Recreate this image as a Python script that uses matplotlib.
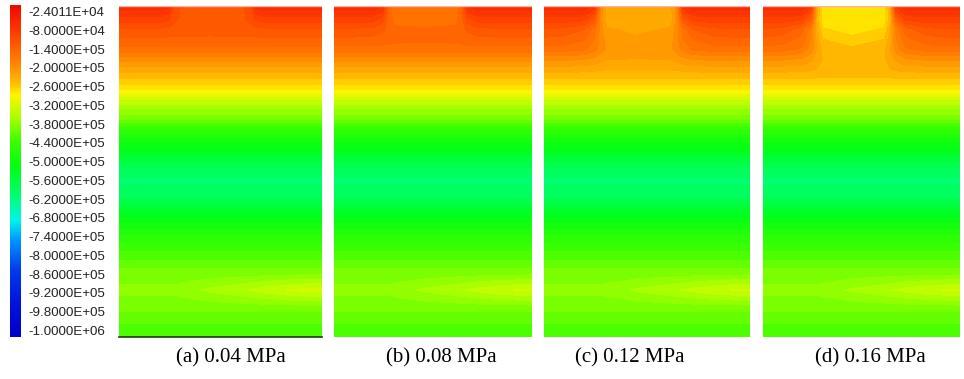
import numpy as np
import matplotlib
matplotlib.use("Agg")
import matplotlib.pyplot as plt
from matplotlib.colors import LinearSegmentedColormap, Normalize

# legend values (Pa) and their labels
cb_values = [-24011, -80000, -140000, -200000, -260000, -320000, -380000, -440000,
             -500000, -560000, -620000, -680000, -740000, -800000, -860000, -920000,
             -980000, -1000000]
cb_labels = ["-2.4011E+04", "-8.0000E+04", "-1.4000E+05", "-2.0000E+05", "-2.6000E+05",
             "-3.2000E+05", "-3.8000E+05", "-4.4000E+05", "-5.0000E+05", "-5.6000E+05",
             "-6.2000E+05", "-6.8000E+05", "-7.4000E+05", "-8.0000E+05", "-8.6000E+05",
             "-9.2000E+05", "-9.8000E+05", "-1.0000E+06"]

titles = ["(a) 0.04 MPa", "(b) 0.08 MPa", "(c) 0.12 MPa", "(d) 0.16 MPa"]

# depth below top of model (0 = surface, 1 = bottom) and the far-field pressure profile
depth = [0.0, 0.042, 0.073, 0.103, 0.133, 0.163, 0.193, 0.224, 0.254, 0.284, 0.314,
         0.344, 0.375, 0.435, 0.48, 0.526, 0.571, 0.616, 0.662, 0.707, 0.752, 0.798,
         0.858, 0.918, 0.979, 1.0]
base_profile = [-5.1e4, -8.7e4, -1.16e5, -1.35e5, -1.54e5, -1.93e5, -2.22e5, -2.5e5,
                -2.79e5, -3.27e5, -3.66e5, -3.94e5, -4.52e5, -5.19e5, -5.75e5, -6.0e5,
                -5.9e5, -5.4e5, -4.9e5, -4.52e5, -4.23e5, -3.94e5, -3.74e5, -3.94e5,
                -4.23e5, -4.3e5]

# lateral positions (fraction of width)
x_nodes = [0.0, 0.10, 0.20, 0.25, 0.28, 0.31, 0.45, 0.61, 0.64, 0.67, 0.72, 0.82, 0.92, 1.0]
# how the load effect spreads sideways, one row per depth row 0..7
load_shape = [
    [0, 0, 0, 0.1, 0.8, 1, 1, 1, 0.8, 0.1, 0, 0, 0, 0],
    [0, 0, 0.03, 0.25, 0.78, 1, 1, 1, 0.78, 0.25, 0.03, 0, 0, 0],
    [0, 0.03, 0.15, 0.4, 0.72, 0.92, 1, 0.92, 0.72, 0.4, 0.15, 0.03, 0, 0],
    [0, 0.03, 0.15, 0.4, 0.72, 0.92, 1, 0.92, 0.72, 0.4, 0.15, 0.03, 0, 0],
    [0, 0.03, 0.15, 0.4, 0.72, 0.92, 1, 0.92, 0.72, 0.4, 0.15, 0.03, 0, 0],
    [0, 0.03, 0.15, 0.4, 0.72, 0.92, 1, 0.92, 0.72, 0.4, 0.15, 0.03, 0, 0],
    [0, 0.03, 0.15, 0.4, 0.72, 0.92, 1, 0.92, 0.72, 0.4, 0.15, 0.03, 0, 0],
    [0, 0.03, 0.15, 0.4, 0.72, 0.92, 1, 0.92, 0.72, 0.4, 0.15, 0.03, 0, 0],
]
ridge_shape = [0, 0, 0, 0, 0, 0.05, 0.3, 0.5, 0.55, 0.6, 0.7, 0.85, 0.95, 1.0]

# extra pressure under the loaded zone, first 8 depth rows
offset_a = [-6.5e4, -3.0e4, -8e3, 0, 0, 0, 0, 0]
offset_b = [-1.1e5, -6.5e4, -3e4, -1e4, 0, 0, 0, 0]
offset_c = [-1.7e5, -1.35e5, -1.02e5, -7.5e4, -5e4, -2.2e4, -8e3, 0]
offset_d = [-2.25e5, -1.9e5, -1.55e5, -1.2e5, -8.8e4, -4.3e4, -1.3e4, 0]
offsets = [offset_a, offset_b, offset_c, offset_d]
ridge_amp = [5.5e4, 5e4, 5e4, 5e4]

# colour map, t = 0 at top of bar (red) to 1 at bottom (blue)
cmap = LinearSegmentedColormap.from_list("fluent", [
    (0.00, (240/255, 10/255, 0)),
    (0.08, (1, 60/255, 0)),
    (0.17, (1, 130/255, 0)),
    (0.23, (1, 185/255, 0)),
    (0.27, (1, 245/255, 0)),
    (0.33, (180/255, 1, 0)),
    (0.41, (60/255, 1, 0)),
    (0.49, (0, 1, 20/255)),
    (0.58, (0, 1, 120/255)),
    (0.65, (0, 245/255, 235/255)),
    (0.71, (0, 150/255, 1)),
    (0.80, (0, 60/255, 235/255)),
    (0.90, (0, 20/255, 220/255)),
    (1.00, (0, 0, 200/255)),
])
tick_t = np.linspace(0.02, 0.98, len(cb_values))


def to_t(v):
    return np.interp(-np.asarray(v), -np.array(cb_values), tick_t)


W, H = 964, 379
fig = plt.figure(figsize=(W / 100, H / 100), dpi=100)


def px_axes(x0, y0, x1, y1):
    return fig.add_axes([x0 / W, 1 - y1 / H, (x1 - x0) / W, (y1 - y0) / H])


# colour bar
cax = px_axes(10, 5, 21, 337)
grad = np.linspace(0, 1, 400)[:, None]
cax.imshow(grad, cmap=cmap, aspect="auto", extent=[0, 1, 1, 0], norm=Normalize(0, 1))
cax.set_xlim(0, 1)
cax.set_ylim(1, 0)
cax.set_xticks([])
cax.yaxis.tick_right()
cax.set_yticks(tick_t)
cax.set_yticklabels(cb_labels, fontsize=9.6, family="Liberation Sans", color="#222222")
cax.tick_params(axis="y", length=0, pad=5)
for s in cax.spines.values():
    s.set_visible(False)

panel_px = [(119, 322), (334, 532), (544, 750), (763, 960)]
label_cx = [231, 441, 630, 870]
levels = np.linspace(0, 1, 65)

for i in range(4):
    Z = np.array(base_profile)[:, None] + np.zeros(len(x_nodes))[None, :]
    for r in range(8):
        Z[r] += offsets[i][r] * np.array(load_shape[r])
    Z[22] += ridge_amp[i] * np.array(ridge_shape)
    ax = px_axes(panel_px[i][0], 6, panel_px[i][1], 337)
    ax.contourf(x_nodes, depth, to_t(Z), levels=levels, cmap=cmap, norm=Normalize(0, 1))
    ax.set_xlim(0, 1)
    ax.set_ylim(1, 0)
    ax.set_xticks([])
    ax.set_yticks([])
    for s in ax.spines.values():
        s.set_visible(False)
    ax.axhline(0.001, color="#ffb0a8", lw=1)
    if i == 0:
        ax.spines["bottom"].set_visible(True)
        ax.spines["bottom"].set_color("#1e3a10")
        ax.spines["bottom"].set_linewidth(1.2)
    fig.text(label_cx[i] / W, 1 - 358 / H, titles[i], ha="center", va="center",
             fontsize=15, family="Liberation Serif")

fig.savefig("out.png", dpi=100)
